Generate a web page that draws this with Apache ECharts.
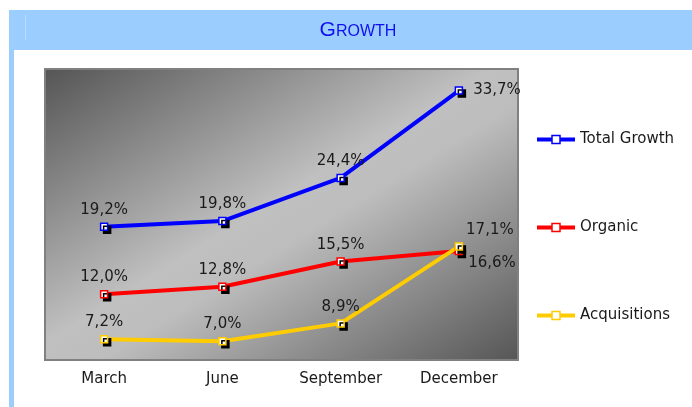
<!DOCTYPE html>
<html>
<head>
<meta charset="utf-8">
<script src="https://cdn.jsdelivr.net/npm/echarts@6/dist/echarts.min.js"></script>
<style>
    html, body { margin: 0; padding: 0; background: #fff; }
    #chart { width: 692px; height: 407px; }
</style>
</head>
<body>
<div id="chart"></div>
<script>
const categories = ['March', 'June', 'September', 'December']
const totalGrowth = [19.2, 19.8, 24.4, 33.7]
const organic = [12.0, 12.8, 15.5, 16.6]
const acquisitions = [7.2, 7.0, 8.9, 17.1]

const fontFamily = '"DejaVu Sans", Verdana, sans-serif'
const fmt = p => p.value.toFixed(1).replace('.', ',') + '%'

// plot box
const plot = { left: 45, top: 69, width: 473, height: 291 }

// label tweaks for the December points
const lastLabel = {
    total: { position: 'right', distance: 10 },
    organic: { position: 'right', distance: 5, offset: [0, 12] },
    acq: { position: 'top', offset: [31, 0] }
}

function seriesData(values, last) {
    return values.map((v, i) => i === values.length - 1 ? { value: v, label: last } : v)
}

function makeSeries(name, color, values, last) {
    return {
        name: name,
        type: 'line',
        data: seriesData(values, last),
        symbol: 'rect',
        symbolSize: 7,
        lineStyle: { color: color, width: 4 },
        itemStyle: {
            color: '#fff',
            borderColor: color,
            borderWidth: 1.5,
            shadowColor: '#000',
            shadowBlur: 0,
            shadowOffsetX: 3,
            shadowOffsetY: 3
        },
        label: {
            show: true,
            position: 'top',
            distance: 5,
            formatter: fmt,
            color: '#1a1a1a',
            fontSize: 15,
            fontFamily: fontFamily
        },
        emphasis: { disabled: true },
        animation: false
    }
}

function makeLegend(name, top) {
    return {
        data: [name],
        left: 535,
        top: top,
        padding: 0,
        orient: 'vertical',
        itemWidth: 38,
        itemHeight: 10,
        selectedMode: false,
        lineStyle: { width: 4 },
        itemStyle: { borderWidth: 1.5, shadowColor: 'rgba(0,0,0,0)', shadowOffsetX: 0, shadowOffsetY: 0 },
        textStyle: { color: '#1a1a1a', fontSize: 15, fontFamily: fontFamily }
    }
}

// diagonal shading: isolines run along the anti-diagonal of the plot box
const diag = Math.hypot(plot.width, plot.height)
const reach = 2 * plot.width * plot.height / diag
const gx2 = plot.left + plot.height / diag * reach
const gy2 = plot.top + plot.width / diag * reach

const myChart = echarts.init(document.getElementById('chart'), null, { renderer: 'canvas' })

const option = {
    backgroundColor: '#fff',
    animation: false,
    graphic: [
        { type: 'rect', shape: { x: 9, y: 10, width: 683, height: 40 }, style: { fill: '#9ccdff' }, z: 0 },
        { type: 'rect', shape: { x: 9, y: 10, width: 5, height: 397 }, style: { fill: '#9ccdff' }, z: 0 },
        { type: 'rect', shape: { x: 25, y: 15, width: 1, height: 25 }, style: { fill: '#b8dcff' }, z: 1 },
        {
            type: 'text',
            x: 358,
            y: 30,
            z: 2,
            style: {
                text: '{g|G}{r|ROWTH}',
                align: 'center',
                verticalAlign: 'middle',
                fill: '#0f0fef',
                rich: {
                    g: { fontSize: 21, fontFamily: '"Liberation Sans", Arial, sans-serif', fill: '#0f0fef', verticalAlign: 'bottom' },
                    r: { fontSize: 16, fontFamily: '"Liberation Sans", Arial, sans-serif', fill: '#0f0fef', verticalAlign: 'bottom', padding: [0, 0, 1, 0] }
                }
            }
        }
    ],
    grid: {
        left: plot.left,
        top: plot.top,
        width: plot.width,
        height: plot.height,
        show: true,
        borderColor: '#808080',
        borderWidth: 2,
        backgroundColor: new echarts.graphic.LinearGradient(plot.left, plot.top, gx2, gy2, [
            { offset: 0, color: '#555555' },
            { offset: 0.47, color: '#c0c0c0' },
            { offset: 0.56, color: '#bdbdbd' },
            { offset: 1, color: '#565656' }
        ], true)
    },
    legend: [
        makeLegend('Total Growth', 132),
        makeLegend('Organic', 220),
        makeLegend('Acquisitions', 308)
    ],
    xAxis: {
        type: 'category',
        data: categories,
        boundaryGap: true,
        axisLine: { show: false },
        axisTick: { show: false },
        splitLine: { show: false },
        axisLabel: { color: '#1a1a1a', fontSize: 15, fontFamily: fontFamily, margin: 12 }
    },
    yAxis: {
        type: 'value',
        min: 5,
        max: 36,
        show: false,
        splitLine: { show: false }
    },
    series: [
        makeSeries('Total Growth', '#0000ff', totalGrowth, lastLabel.total),
        makeSeries('Organic', '#ff0000', organic, lastLabel.organic),
        makeSeries('Acquisitions', '#ffcc00', acquisitions, lastLabel.acq)
    ]
}

myChart.setOption(option)
window.addEventListener('resize', () => myChart.resize())
</script>
</body>
</html>
